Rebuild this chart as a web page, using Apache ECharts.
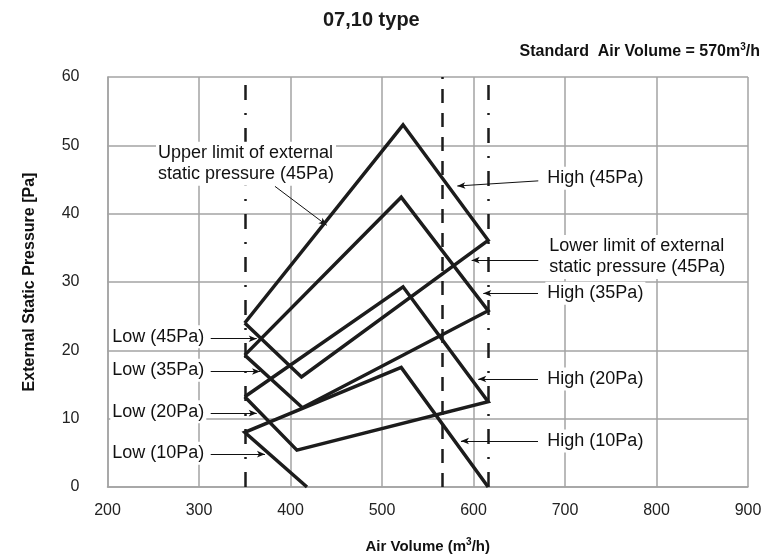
<!DOCTYPE html>
<html>
<head>
<meta charset="utf-8">
<script src="https://cdn.jsdelivr.net/npm/echarts@6/dist/echarts.min.js"></script>
<style>
  html, body { margin: 0; padding: 0; background: #fff; }
  #chart { width: 763px; height: 557px; }
</style>
</head>
<body>
<div id="chart"></div>
<script>
// fan curves, pairs of [air volume m3/h, external static pressure Pa]
var curve45 = [[350, 24], [523, 53], [616, 36.1], [412, 16.1], [350, 24]];
var curve35 = [[350, 19.3], [521, 42.4], [616, 25.8], [413, 11.6], [350, 19.3]];
var curve20 = [[350, 13.2], [523, 29.3], [616, 12.5], [407, 5.4], [350, 13.2]];
var curve10 = [[418, 0], [350, 8], [521, 17.5], [616, 0]];

// vertical reference lines (air volume)
var limitLines = [350, 616];
var standardLine = 566;

// annotation texts, where they sit and where their arrows point
var notes = [
  { text: 'Upper limit of external\nstatic pressure (45Pa)', at: [253, 47.3], from: [383, 44], to: [439.6, 38.3] },
  { text: 'High (45Pa)', at: [678.5, 45.2], from: [670.8, 44.8], to: [582.3, 44.05] },
  { text: 'Lower limit of external\nstatic pressure (45Pa)', at: [680.5, 33.66], from: [670.8, 33.2], to: [598, 33.2] },
  { text: 'High (35Pa)', at: [678.5, 28.35], from: [670.5, 28.35], to: [610.7, 28.35] },
  { text: 'High (20Pa)', at: [678.5, 15.8], from: [670.5, 15.8], to: [605.2, 15.8] },
  { text: 'High (10Pa)', at: [678.5, 6.73], from: [670.5, 6.73], to: [586.3, 6.73] },
  { text: 'Low (45Pa)', at: [203, 22.0], from: [312.8, 21.7], to: [363.1, 21.7] },
  { text: 'Low (35Pa)', at: [203, 17.1], from: [312.8, 16.9], to: [366.7, 16.9] },
  { text: 'Low (20Pa)', at: [203, 11.0], from: [312.8, 10.8], to: [363.1, 10.8] },
  { text: 'Low (10Pa)', at: [203, 4.93], from: [312.8, 4.8], to: [372.1, 4.8] }
];

var FONT = '"Liberation Sans", Arial, sans-serif';
var GRID_COLOR = '#a3a3a3';

var chart = echarts.init(document.getElementById('chart'));

function curveSeries(data) {
  return {
    type: 'line',
    data: data,
    showSymbol: false,
    silent: true,
    z: 3,
    lineStyle: { color: '#1c1c1c', width: 3.5, join: 'miter' }
  };
}

var verticalMarks = limitLines.map(function (x) {
  return { xAxis: x, lineStyle: { type: [15, 13, 2, 13], width: 2.5, color: '#1c1c1c' } };
});
verticalMarks.push({ xAxis: standardLine, lineStyle: { type: [14, 10], width: 2.5, color: '#1c1c1c' } });

var arrowMarks = notes.map(function (n) {
  return [
    { coord: n.from, symbol: 'none' },
    { coord: n.to, symbol: 'arrow', symbolSize: [5, 8] }
  ];
});

var supStyle = { fontSize: 10, fontWeight: 'bold', fontFamily: FONT, padding: [0, 0, 9, 0] };

var option = {
  animation: false,
  backgroundColor: '#fff',
  textStyle: { fontFamily: FONT },
  title: [
    {
      text: '07,10 type',
      left: 323, top: 10, padding: 0,
      textStyle: { fontSize: 20, fontWeight: 'bold', color: '#1a1a1a', fontFamily: FONT }
    },
    {
      text: 'Standard  Air Volume = 570m{sup|3}/h',
      right: 3, top: 42, padding: 0,
      textStyle: {
        fontSize: 16, fontWeight: 'bold', color: '#111', fontFamily: FONT,
        rich: { sup: supStyle }
      }
    }
  ],
  grid: { left: 107.5, right: 15, top: 77, bottom: 70, containLabel: false, outerBoundsMode: 'none' },
  xAxis: {
    type: 'value',
    min: 200, max: 900, interval: 100,
    name: 'Air Volume (m{sup|3}/h)',
    nameLocation: 'middle',
    nameGap: 50,
    nameTextStyle: {
      fontSize: 15, fontWeight: 'bold', color: '#111', fontFamily: FONT,
      rich: { sup: supStyle }
    },
    axisLine: { lineStyle: { color: GRID_COLOR, width: 1.5 } },
    axisTick: { show: false },
    axisLabel: { fontSize: 16, color: '#222', margin: 16, fontFamily: FONT },
    splitLine: { lineStyle: { color: GRID_COLOR, width: 1.5 } }
  },
  yAxis: {
    type: 'value',
    min: 0, max: 60, interval: 10,
    name: 'External Static Pressure [Pa]',
    nameLocation: 'middle',
    nameRotate: 90,
    nameGap: 70,
    nameTextStyle: { fontSize: 16, fontWeight: 'bold', color: '#111', fontFamily: FONT },
    axisLine: { show: true, lineStyle: { color: GRID_COLOR, width: 1.5 } },
    axisTick: { show: false },
    axisLabel: { fontSize: 16, color: '#222', margin: 28, fontFamily: FONT },
    splitLine: { lineStyle: { color: GRID_COLOR, width: 1.5 } }
  },
  series: [
    curveSeries(curve45),
    curveSeries(curve35),
    curveSeries(curve20),
    Object.assign(curveSeries(curve10), {
      markLine: {
        silent: true,
        symbol: 'none',
        label: { show: false },
        z: 2,
        data: verticalMarks.concat(arrowMarks),
        lineStyle: { color: '#111', width: 1, type: 'solid' }
      }
    })
  ]
};

chart.setOption(option);

// text labels with white backing, placed through the axis scales
var labels = notes.map(function (n) {
  var p = chart.convertToPixel({ gridIndex: 0 }, n.at);
  return {
    type: 'text',
    x: p[0], y: p[1], z: 10,
    style: {
      text: n.text,
      font: '18px ' + FONT,
      fill: '#111',
      align: 'left',
      verticalAlign: 'middle',
      lineHeight: 21,
      backgroundColor: '#fff',
      padding: [1, 2]
    }
  };
});
chart.setOption({ graphic: labels });
</script>
</body>
</html>
